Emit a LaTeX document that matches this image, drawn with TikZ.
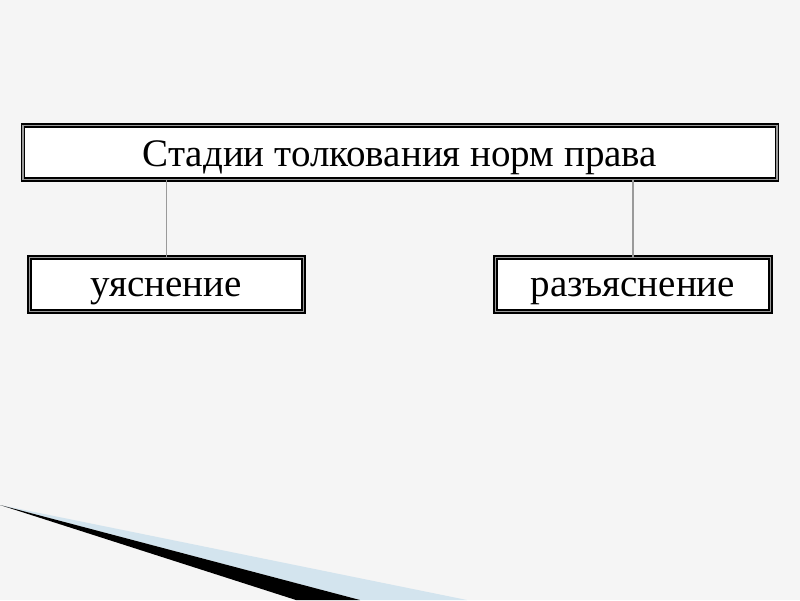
\documentclass[tikz,border=0pt]{standalone}
\usepackage{fontspec}
\setmainfont{Liberation Serif}
\definecolor{bg}{HTML}{F5F5F5}
\definecolor{wedgeblue}{HTML}{D3E4EE}
\definecolor{linkgray}{HTML}{9A9A9A}
\definecolor{bandgray}{HTML}{9A9A9A}
\begin{document}
\begin{tikzpicture}[x=1pt,y=-1pt,
  framebox/.style={draw=black, line width=1.4pt, double=bandgray, double distance=1.6pt,
    fill=white, inner sep=0pt, font=\fontsize{39}{44}\selectfont, text=black, text depth=0pt},
  link/.style={draw=linkgray, line width=1.6pt}]
\useasboundingbox (0,0) rectangle (800,600);
\fill[bg] (0,0) rectangle (800,600);
% bottom decoration
\fill[wedgeblue] (0,505) -- (467,600) -- (360,600) -- cycle;
\fill[black] (0,505) -- (360,600) -- (296,600) -- cycle;
% nodes
\node[framebox, text height=27pt, minimum width=754pt, minimum height=54pt] (top) at (400,152.5) {Стадии толкования норм права};
\node[framebox, text height=23pt, minimum width=274pt, minimum height=54pt] (left) at (166.5,284.5) {уяснение};
\node[framebox, text height=23pt, minimum width=275pt, minimum height=54pt] (right) at (633,284.5) {разъяснение};
% connectors
\draw[link] (top.south -| left.north) -- (left.north);
\draw[link] (top.south -| right.north) -- (right.north);
\end{tikzpicture}
\end{document}
